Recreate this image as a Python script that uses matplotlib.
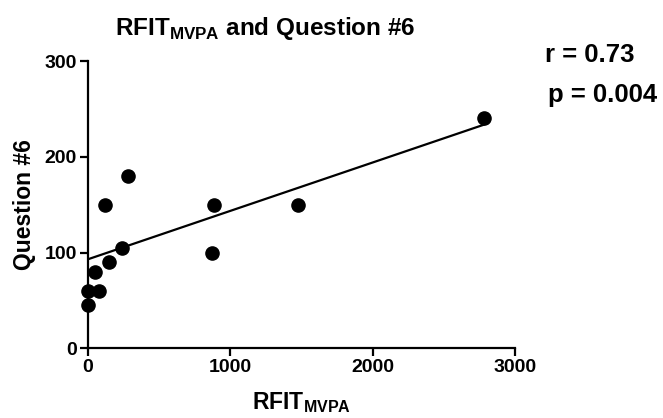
import numpy as np
import matplotlib
matplotlib.use("Agg")
import matplotlib.pyplot as plt

# data
rfit_mvpa = [0, 0, 74, 51, 150, 238, 870, 119, 278, 882, 1476, 2781]
question6 = [45, 60, 60, 80, 90, 105, 100, 150, 180, 150, 150, 240]

# regression line end points as drawn in the original
fit_x = [0, 2781]
fit_y = [93, 233.5]

x_ticks = [0, 1000, 2000, 3000]
y_ticks = [0, 100, 200, 300]

plt.rcParams['font.family'] = ['Liberation Sans', 'DejaVu Sans']
plt.rcParams['font.weight'] = 'bold'
plt.rcParams['mathtext.fontset'] = 'custom'
plt.rcParams['mathtext.rm'] = 'Liberation Sans:bold'
plt.rcParams['mathtext.bf'] = 'Liberation Sans:bold'


def main():
    fig = plt.figure(figsize=(6.63, 4.18), dpi=100)
    ax = fig.add_axes([0.1327, 0.1667, 0.6441, 0.6873])

    ax.scatter(rfit_mvpa, question6, s=90, color='black', zorder=3, clip_on=False)
    ax.plot(fit_x, fit_y, color='black', lw=1.6, zorder=2)

    ax.set_xlim(0, 3000)
    ax.set_ylim(0, 300)
    ax.set_xticks(x_ticks)
    ax.set_yticks(y_ticks)
    ax.tick_params(direction='out', length=6, width=1.6, labelsize=14, pad=2)
    for lbl in ax.get_xticklabels() + ax.get_yticklabels():
        lbl.set_fontweight('bold')

    for side in ['top', 'right']:
        ax.spines[side].set_visible(False)
    for side in ['left', 'bottom']:
        ax.spines[side].set_linewidth(1.6)

    ax.set_xlabel(r'RFIT$_{\mathbf{MVPA}}$', fontsize=16.5, fontweight='bold', labelpad=10)
    ax.set_ylabel('Question #6', fontsize=16.5, fontweight='bold', labelpad=6)

    fig.text(0.40, 0.932, r'RFIT$_{\mathbf{MVPA}}$ and Question #6', fontsize=17.5,
             fontweight='bold', ha='center', va='center')
    fig.text(0.822, 0.868, 'r = 0.73', fontsize=18.5, fontweight='bold', va='center')
    fig.text(0.826, 0.773, 'p = 0.004', fontsize=18.5, fontweight='bold', va='center')

    fig.savefig('out.png', dpi=100)


if __name__ == "__main__":
    main()
